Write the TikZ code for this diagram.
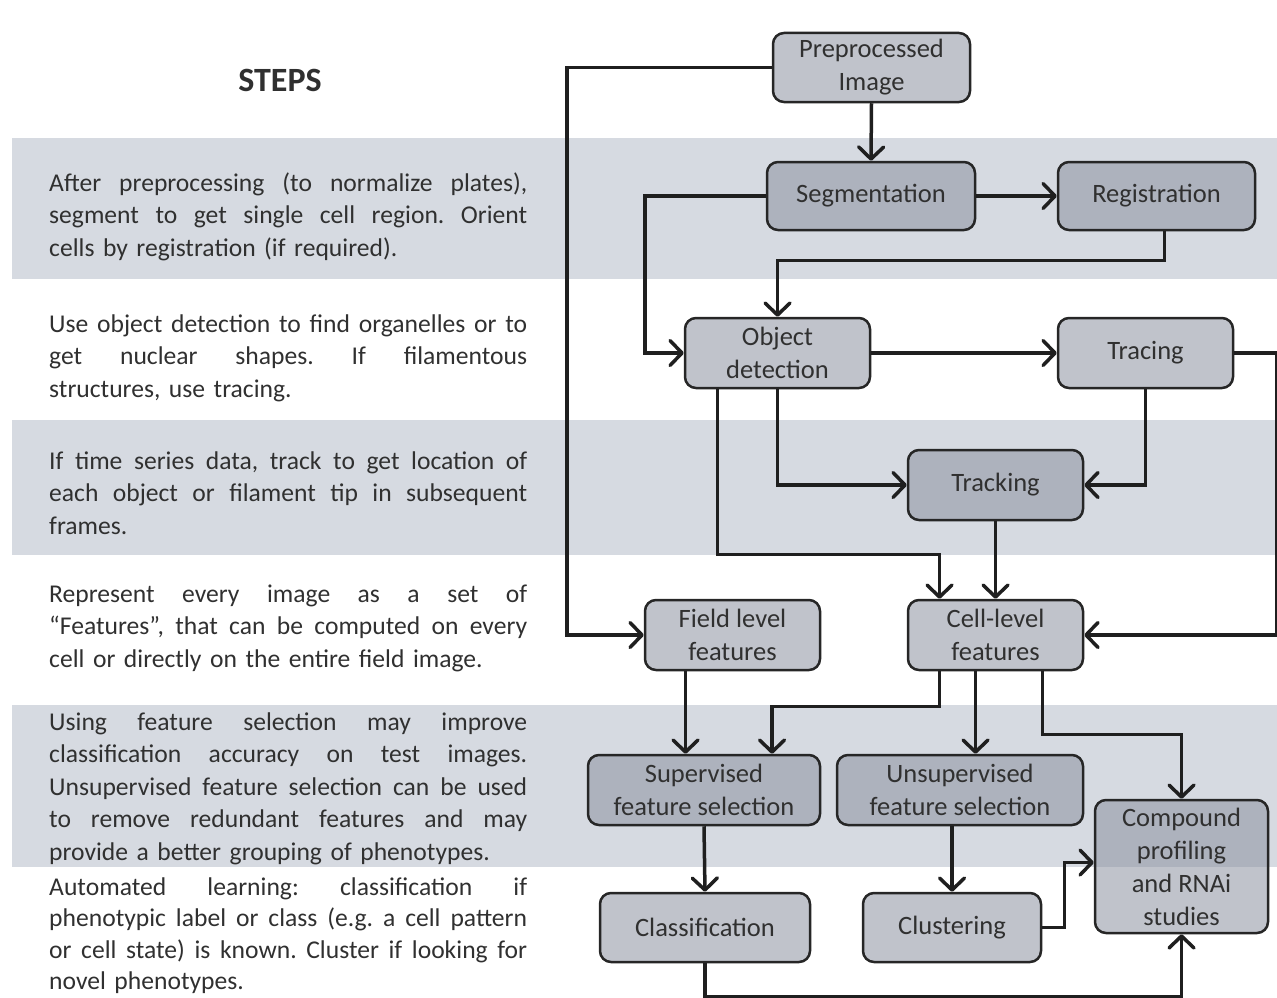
\documentclass[tikz,border=0pt]{standalone}
\usepackage{fontspec}
\setmainfont{Carlito}
\usepackage{xcolor}
\usetikzlibrary{arrows.meta}
\definecolor{bandgrey}{RGB}{214,218,225}
\definecolor{boxgrey}{RGB}{140,146,160}
\definecolor{inkgrey}{RGB}{48,48,48}
\newcommand{\boxfont}{\fontsize{26.5}{33}\selectfont}
\newcommand{\stepfont}{\fontsize{25.6}{32.5}\selectfont\frenchspacing}
\newcommand{\jline}[1]{\makebox[478pt][s]{\spaceskip=0pt\xspaceskip=0pt\relax #1}}
\tikzset{
  band/.style = {fill=bandgrey, draw=none}
}
\tikzset{
  stage/.style = {draw=black!85, line width=2.5pt, rounded corners=11pt,
    fill=boxgrey, fill opacity=0.55, text opacity=1, text=inkgrey,
    align=center, inner sep=0pt, font=\boxfont}
}
\tikzset{
  steptext/.style = {anchor=base west, inner sep=0pt, text width=478pt,
    align=left, font=\stepfont, text=inkgrey}
}
\tikzset{
  flow/.style = {line width=3.5pt, draw=black!88,
    -{Straight Barb[length=12pt, width=25pt, round]}}
}
\begin{document}
\begin{tikzpicture}[x=1pt, y=-1pt]
  \useasboundingbox (0,0) rectangle (1277,998);

  % Shaded bands
  \fill[band] (12,138) rectangle (1277,279);
  \fill[band] (12,420) rectangle (1277,555);
  \fill[band] (12,705) rectangle (1277,867);

  % Steps column
  \node[font=\fontsize{34}{40}\selectfont\bfseries, text=inkgrey] (title) at (280,80) {STEPS};

  \node[steptext] (s1) at (49,191) {%
    \jline{After preprocessing (to normalize plates),}\\
    \jline{segment to get single cell region. Orient}\\
    cells by registration (if required).};
  \node[steptext] (s2) at (49,332) {%
    \jline{Use object detection to find organelles or to}\\
    \jline{get nuclear shapes. If filamentous}\\
    structures, use tracing.};
  \node[steptext] (s3) at (49,469) {%
    \jline{If time series data, track to get location of}\\
    \jline{each object or filament tip in subsequent}\\
    frames.};
  \node[steptext] (s4) at (49,602) {%
    \jline{Represent every image as a set of}\\
    \jline{“Features”, that can be computed on every}\\
    cell or directly on the entire field image.};
  \node[steptext] (s5) at (49,730) {%
    \jline{Using feature selection may improve}\\
    \jline{classification accuracy on test images.}\\
    \jline{Unsupervised feature selection can be used}\\
    \jline{to remove redundant features and may}\\
    provide a better grouping of phenotypes.};
  \node[steptext, font=\fontsize{25.6}{31.5}\selectfont\frenchspacing] (s6) at (49,895) {%
    \jline{Automated learning: classification if}\\
    \jline{phenotypic label or class (e.g. a cell pattern}\\
    \jline{or cell state) is known. Cluster if looking for}\\
    novel phenotypes.};

  % Flow boxes
  \node[stage, minimum width=197pt, minimum height=69pt] (pre) at (871.5,67.5) {Preprocessed\\Image};
  \node[stage, minimum width=208pt, minimum height=68pt] (seg) at (871,196) {Segmentation};
  \node[stage, minimum width=197pt, minimum height=68pt] (reg) at (1156.5,196) {Registration};
  \node[stage, minimum width=185pt, minimum height=70pt] (obj) at (777.5,353) {Object\\detection};
  \node[stage, minimum width=175pt, minimum height=70pt] (trc) at (1145.5,353) {Tracing};
  \node[stage, minimum width=175pt, minimum height=70pt] (trk) at (995.5,485) {Tracking};
  \node[stage, minimum width=175pt, minimum height=70pt] (fld) at (732.5,635) {Field level\\features};
  \node[stage, minimum width=175pt, minimum height=70pt] (cel) at (995.5,635) {Cell-level\\features};
  \node[stage, minimum width=232pt, minimum height=70pt] (sup) at (704,790) {Supervised\\feature selection};
  \node[stage, minimum width=246pt, minimum height=70pt] (uns) at (960,790) {Unsupervised\\feature selection};
  \node[stage, minimum width=173pt, minimum height=133pt] (cmp) at (1181.5,866.5) {Compound\\profiling\\and RNAi\\studies};
  \node[stage, minimum width=210pt, minimum height=69pt] (cls) at (705,927.5) {Classification};
  \node[stage, minimum width=178pt, minimum height=69pt] (clu) at (952,927.5) {Clustering};

  % Connectors
  \draw[flow] (pre.west) -- ++(-205,0) |- (fld.west);
  \draw[flow] (pre.south) -- (seg.north);
  \draw[flow] (seg.east) -- (reg.west);
  \draw[flow] (seg.west) -- ++(-121,0) |- (obj.west);
  \draw[flow] ([xshift=8pt]reg.south) -- ++(0,29) -| (obj.north);
  \draw[flow] (obj.east) -- (trc.west);
  \draw[flow] (trc.east) -- ++(42,0) |- (cel.east);
  \draw[flow] (trc.south) |- (trk.east);
  \draw[flow] (obj.south) |- (trk.west);
  \draw[flow] ([xshift=-60pt]obj.south) -- ++(0,165) -| ([xshift=-56pt]cel.north);
  \draw[flow] (trk.south) -- (cel.north);
  \draw[flow] ([xshift=-47pt]fld.south) -- ([xshift=-47pt]fld.south |- sup.north);
  \draw[flow] ([xshift=-56pt]cel.south) -- ++(0,35) -| ([xshift=68pt]sup.north);
  \draw[flow] ([xshift=-20pt]cel.south) -- ([xshift=-20pt]cel.south |- uns.north);
  \draw[flow] ([xshift=47pt]cel.south) -- ++(0,63) -| (cmp.north);
  \draw[flow] (sup.south) -- (cls.north);
  \draw[flow] (clu.north |- uns.south) -- (clu.north);
  \draw[flow] (clu.east) -- ++(22,0) |- ([yshift=4pt]cmp.west);
  \draw[flow] (cls.south) -- ++(0,33) -| (cmp.south);
\end{tikzpicture}
\end{document}
